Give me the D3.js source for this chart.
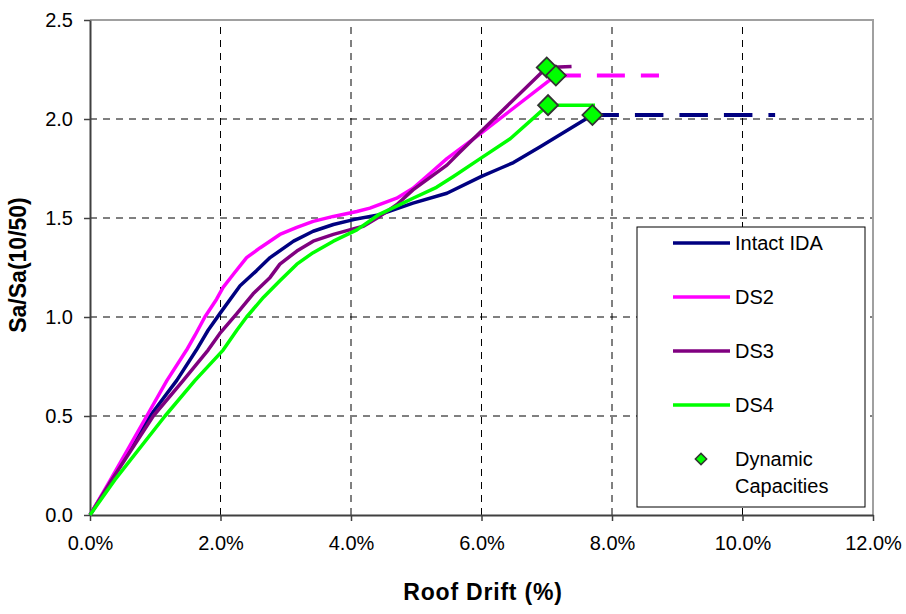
<!DOCTYPE html>
<html lang="en">
<head>
<meta charset="UTF-8">
<script src="https://d3js.org/d3.v7.min.js"></script>
<style>
body { margin: 0; background: #fff; }
svg text { font-family: "Liberation Sans", Arial, sans-serif; fill: #000; }
</style>
</head>
<body>
<svg id="chart" width="906" height="614"></svg>
<script>
// roof drift in %, Sa/Sa(10/50)
var intact = [[0,0],[0.3,0.16],[0.92,0.5],[1.33,0.68],[1.63,0.833],[1.81,0.933],[1.99,1.017],[2.3,1.158],[2.55,1.233],[2.76,1.3],[3.12,1.383],[3.42,1.433],[3.73,1.467],[4.04,1.492],[4.44,1.517],[4.95,1.575],[5.47,1.625],[6.0,1.71],[6.28,1.75],[6.49,1.78],[6.9,1.86],[7.7,2.02]]
var ds2 = [[0,0],[0.3,0.17],[0.87,0.5],[1.18,0.68],[1.48,0.833],[1.61,0.908],[1.76,1.0],[1.94,1.09],[2.04,1.15],[2.2,1.217],[2.4,1.3],[2.61,1.35],[2.91,1.417],[3.17,1.453],[3.42,1.483],[3.73,1.508],[4.09,1.533],[4.29,1.55],[4.7,1.6],[4.95,1.65],[5.21,1.725],[5.47,1.8],[6.0,1.93],[7.14,2.22]]
var ds3 = [[0,0],[0.3,0.16],[0.97,0.5],[1.43,0.68],[1.81,0.833],[1.99,0.917],[2.25,1.017],[2.5,1.117],[2.76,1.2],[2.91,1.267],[3.17,1.333],[3.42,1.383],[3.73,1.417],[4.09,1.45],[4.19,1.458],[4.44,1.508],[4.7,1.567],[4.95,1.642],[5.47,1.767],[5.67,1.833],[6.0,1.94],[7.0,2.26],[7.38,2.265]]
var ds4 = [[0,0],[0.38,0.177],[1.15,0.5],[1.61,0.68],[2.04,0.833],[2.25,0.933],[2.4,1.0],[2.66,1.1],[2.91,1.183],[3.17,1.267],[3.42,1.325],[3.73,1.383],[4.09,1.44],[4.44,1.52],[4.7,1.56],[4.95,1.6],[5.31,1.655],[5.57,1.71],[5.98,1.8],[6.44,1.9],[7.02,2.07],[7.74,2.07]]
// dashed extensions after collapse
var intactExt = [[7.7,2.02],[10.5,2.02]]
var ds2Ext = [[7.14,2.22],[8.72,2.22]]
// dynamic capacities
var capacities = [[7.7,2.02],[7.0,2.26],[7.02,2.07],[7.14,2.22]]
var xTicks = [0,2,4,6,8,10,12]
var yTicks = [0,0.5,1.0,1.5,2.0,2.5]
var legendNames = ["Intact IDA","DS2","DS3","DS4"]
var colors = ["#000080","#ff00ff","#800080","#00ff00"]

var svg = d3.select("#chart"),
    margin = {top: 20, right: 33, bottom: 99, left: 90},
    width = +svg.attr("width") - margin.left - margin.right,
    height = +svg.attr("height") - margin.top - margin.bottom

var x = d3.scaleLinear().domain([0, 12]).range([margin.left, margin.left + width])
var y = d3.scaleLinear().domain([0, 2.5]).range([margin.top + height, margin.top])

// grid
svg.append("g").selectAll("line")
    .data(xTicks.filter(d => d > 0 && d < 12))
    .join("line")
    .attr("x1", d => x(d)).attr("x2", d => x(d))
    .attr("y1", y(0)).attr("y2", y(2.5))
    .attr("stroke", "#000").attr("stroke-width", 1)
    .attr("stroke-dasharray", "7,6")
svg.append("g").selectAll("line")
    .data(yTicks.filter(d => d > 0 && d < 2.5))
    .join("line")
    .attr("y1", d => y(d)).attr("y2", d => y(d))
    .attr("x1", x(0)).attr("x2", x(12))
    .attr("stroke", "#000").attr("stroke-width", 1)
    .attr("stroke-dasharray", "7,6")

// plot border (top/right)
svg.append("path")
    .attr("d", `M${x(0)},${y(2.5)}H${x(12)}V${y(0)}`)
    .attr("fill", "none").attr("stroke", "#a0a0a0").attr("stroke-width", 2)

// axes
var xAxis = d3.axisBottom(x).tickValues(xTicks).tickSizeInner(6).tickSizeOuter(0).tickPadding(15)
    .tickFormat(d => d.toFixed(1) + "%")
var yAxis = d3.axisLeft(y).tickValues(yTicks).tickSizeInner(6).tickSizeOuter(0).tickPadding(11)
    .tickFormat(d3.format(".1f"))

var gx = svg.append("g").attr("transform", `translate(0,${y(0)})`).call(xAxis)
var gy = svg.append("g").attr("transform", `translate(${x(0)},0)`).call(yAxis)
;[gx, gy].forEach(g => {
    g.select(".domain").attr("stroke", "#404040").attr("stroke-width", 2)
    g.selectAll(".tick line").attr("stroke", "#404040").attr("stroke-width", 1.5)
    g.selectAll(".tick text").attr("font-size", 20).attr("font-family", "Liberation Sans, Arial, sans-serif").attr("fill", "#000")
})

// curves
var line = d3.line().x(d => x(d[0])).y(d => y(d[1]))
;[intact, ds2, ds3, ds4].forEach((s, i) => {
    svg.append("path")
        .attr("d", line(s))
        .attr("fill", "none")
        .attr("stroke", colors[i])
        .attr("stroke-width", 3.5)
        .attr("stroke-linejoin", "round")
})
svg.append("path").attr("d", line(intactExt))
    .attr("fill", "none").attr("stroke", colors[0]).attr("stroke-width", 4)
    .attr("stroke-dasharray", "28.5,16").attr("stroke-dashoffset", 2)
svg.append("path").attr("d", line(ds2Ext))
    .attr("fill", "none").attr("stroke", colors[1]).attr("stroke-width", 4)
    .attr("stroke-dasharray", "28,16").attr("stroke-dashoffset", 3)

var diamond = d3.symbol(d3.symbolSquare, 200)
svg.append("g").selectAll("path")
    .data(capacities)
    .join("path")
    .attr("d", diamond)
    .attr("transform", d => `translate(${x(d[0])},${y(d[1])}) rotate(45)`)
    .attr("fill", "#00ff00").attr("stroke", "#333").attr("stroke-width", 1.8)

// legend
var leg = svg.append("g")
leg.append("rect")
    .attr("x", 637).attr("y", 227).attr("width", 228).attr("height", 280)
    .attr("fill", "#fff").attr("stroke", "#000").attr("stroke-width", 1)
legendNames.forEach((n, i) => {
    var ly = 243 + i * 54
    leg.append("line")
        .attr("x1", 673).attr("x2", 730).attr("y1", ly).attr("y2", ly)
        .attr("stroke", colors[i]).attr("stroke-width", 3.5)
    leg.append("text").attr("x", 735).attr("y", ly).attr("dy", "0.35em")
        .attr("font-size", 20).text(n)
})
leg.append("path")
    .attr("d", d3.symbol(d3.symbolSquare, 64)())
    .attr("transform", "translate(701,459) rotate(45)")
    .attr("fill", "#00ff00").attr("stroke", "#333").attr("stroke-width", 1.5)
leg.append("text").attr("x", 735).attr("y", 459).attr("dy", "0.35em").attr("font-size", 20).text("Dynamic")
leg.append("text").attr("x", 735).attr("y", 486).attr("dy", "0.35em").attr("font-size", 20).text("Capacities")

// axis titles
svg.append("text")
    .attr("x", 483).attr("y", 600)
    .attr("text-anchor", "middle")
    .attr("font-size", 23).attr("font-weight", "bold")
    .attr("letter-spacing", 0.8)
    .text("Roof Drift (%)")
svg.append("text")
    .attr("transform", "translate(26,265) rotate(-90)")
    .attr("text-anchor", "middle")
    .attr("font-size", 23).attr("font-weight", "bold")
    .text("Sa/Sa(10/50)")
</script>
</body>
</html>
